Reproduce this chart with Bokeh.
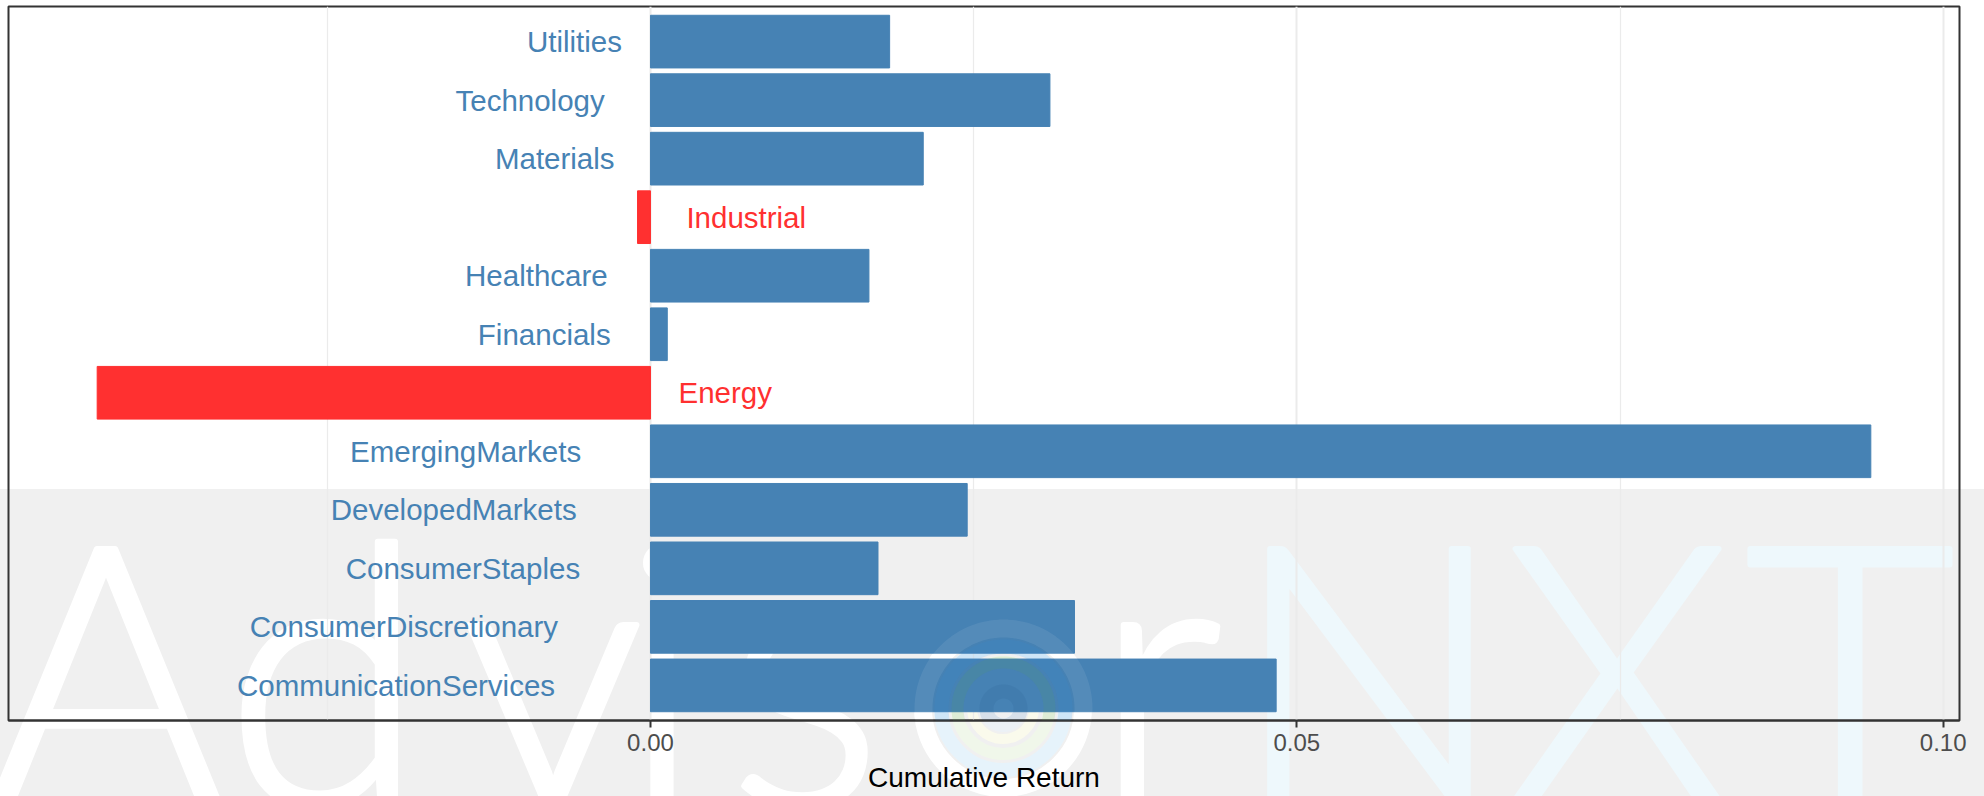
import math
from urllib.parse import quote
from bokeh.plotting import figure
from bokeh.models import (FactorRange, Range1d, ColumnDataSource, FixedTicker,
                          NumeralTickFormatter, PolyAnnotation, InlineStyleSheet)
from bokeh.core.properties import value
from bokeh.embed import file_html
from bokeh.resources import INLINE

# ---------------- data ----------------
categories = ["CommunicationServices", "ConsumerDiscretionary", "ConsumerStaples",
              "DevelopedMarkets", "EmergingMarkets", "Energy", "Financials",
              "Healthcare", "Industrial", "Materials", "Technology", "Utilities"]
cumulative_return = [0.0484, 0.0328, 0.0176, 0.0245, 0.0944, -0.0428, 0.0013,
                     0.0169, -0.0010, 0.0211, 0.0309, 0.0185]
x_ticks = [0.00, 0.05, 0.10]
x_minor_ticks = [-0.025, 0.025, 0.075]
x_title = "Cumulative Return"

POS_COLOR = "#4682b4"
NEG_COLOR = "#ff3030"
FONT = "Liberation Sans"
LABEL_PX = 29.5

W, H = 1984, 796
BORDER_L, BORDER_R, BORDER_T, BORDER_B = 8, 25, 6, 76

# Helvetica/Arial advance widths (per 1000 em) for label offset (ggplot hjust = 1.3)
_W = dict(zip("ABCDEFGHIJKLMNOPQRSTUVWXYZ",
              [667, 667, 722, 722, 667, 611, 778, 722, 278, 500, 667, 556, 833, 722, 778,
               667, 778, 722, 667, 611, 722, 667, 944, 667, 667, 611]))
_W.update(dict(zip("abcdefghijklmnopqrstuvwxyz",
                   [556, 556, 500, 556, 556, 278, 556, 556, 222, 222, 500, 222, 833, 556, 556,
                    556, 556, 333, 500, 278, 556, 500, 722, 500, 500, 500])))


def text_width(s, px):
    return sum(_W.get(c, 556) for c in s) / 1000.0 * px


pos = [c for c, v in zip(categories, cumulative_return) if v >= 0]
neg = [c for c, v in zip(categories, cumulative_return) if v < 0]

bars = ColumnDataSource(dict(
    cat=categories, val=cumulative_return,
    color=[POS_COLOR if v >= 0 else NEG_COLOR for v in cumulative_return]))
pos_src = ColumnDataSource(dict(cat=pos, x=[0.0] * len(pos),
                                off=[-0.3 * text_width(c, LABEL_PX) for c in pos]))
neg_src = ColumnDataSource(dict(cat=neg, x=[0.0] * len(neg),
                                off=[0.3 * text_width(c, LABEL_PX) for c in neg]))

lo, hi = min(cumulative_return), max(cumulative_return)
pad = 0.05 * (hi - lo)

# ---------------- watermark (page background, beneath the plot) ----------------
wm_letters = [("A", 106, "#ffffff"), ("d", 325, "#ffffff"), ("v", 553, "#ffffff"),
              ("i", 662, "#ffffff"), ("s", 805, "#ffffff"), ("r", 1158, "#ffffff"),
              ("N", 1369, "#eef8fc"), ("X", 1617, "#eef8fc"), ("T", 1850, "#eef8fc")]
LOGO_X, LOGO_Y = 1003, 708
logo_under = [(80, 18, "#ffffff"), (62, 14, "#e6f3fb"), (46, 12, "#f0f7ea"),
              (31, 10, "#fafaec"), (17, 14, "#ecf1f6")]
logo_over = [(80, 18, "#ffffff", 0.08), (62, 14, "#2e8ee0", 0.13),
             (46, 12, "#5aa04a", 0.13), (17, 14, "#1f5080", 0.10)]

svg = [f"<svg xmlns='http://www.w3.org/2000/svg' width='{W}' height='{H}' viewBox='0 0 {W} {H}'>",
       f"<rect x='0' y='489' width='{W}' height='{H - 489}' fill='#f0f0f0'/>",
       "<g font-family=\"'Lato Light', Lato, 'Liberation Sans'\" font-size='362'"
       " text-anchor='middle' stroke-width='6' stroke-linejoin='round'>"]
for ch, cx, col in wm_letters:
    svg.append(f"<text x='{cx}' y='805' fill='{col}' stroke='{col}'>{ch}</text>")
svg.append("</g><g fill='none'>")
for r, w, col in logo_under:
    svg.append(f"<circle cx='{LOGO_X}' cy='{LOGO_Y}' r='{r}' stroke='{col}' stroke-width='{w}'/>")
svg.append("</g></svg>")
svg_uri = "data:image/svg+xml," + quote("".join(svg))
bg_css = InlineStyleSheet(css=(
    f":host {{ background-color: #ffffff; background-image: url(\"{svg_uri}\");"
    f" background-repeat: no-repeat; background-size: {W}px {H}px; }}"))

p = figure(width=W, height=H,
           y_range=FactorRange(factors=categories, range_padding=0.1,
                               range_padding_units="absolute"),
           x_range=Range1d(lo - pad, hi + pad),
           output_backend="svg", toolbar_location=None,
           min_border_left=BORDER_L, min_border_right=BORDER_R,
           min_border_top=BORDER_T, min_border_bottom=BORDER_B)
p.stylesheets = [bg_css]
p.background_fill_color = None
p.border_fill_color = None
p.outline_line_color = "#333333"
p.outline_line_width = 2

# ---------------- bars & labels ----------------
p.hbar(y="cat", left=0, right="val", height=0.9, color="color", source=bars)

p.text(x="x", y="cat", text="cat", x_offset="off", source=pos_src,
       text_align="right", text_baseline="middle", text_color=POS_COLOR,
       text_font=value(FONT), text_font_size=f"{LABEL_PX}px")
p.text(x="x", y="cat", text="cat", x_offset="off", source=neg_src,
       text_align="left", text_baseline="middle", text_color=NEG_COLOR,
       text_font=value(FONT), text_font_size=f"{LABEL_PX}px")

# faint logo rings over the bars (watermark overlay)
frame_bottom = H - BORDER_B
for r, w, col, a in logo_over:
    xs = [LOGO_X - BORDER_L + r * math.cos(2 * math.pi * k / 120) for k in range(120)]
    ys = [frame_bottom - (LOGO_Y + r * math.sin(2 * math.pi * k / 120)) for k in range(120)]
    p.add_layout(PolyAnnotation(xs=xs, ys=ys, xs_units="screen", ys_units="screen",
                                fill_alpha=0, line_color=col, line_alpha=a,
                                line_width=w, level="overlay"))

# ---------------- axes & grid ----------------
ticker = FixedTicker(ticks=x_ticks, minor_ticks=x_minor_ticks)
p.xaxis.ticker = ticker
p.xgrid.ticker = ticker
p.xaxis.formatter = NumeralTickFormatter(format="0.00")
p.xaxis.axis_label = x_title
p.xaxis.axis_label_text_font = FONT
p.xaxis.axis_label_text_font_size = "28px"
p.xaxis.axis_label_text_font_style = "normal"
p.xaxis.axis_label_text_color = "#000000"
p.xaxis.axis_label_standoff = 8
p.xaxis.major_label_text_font = FONT
p.xaxis.major_label_text_font_size = "24px"
p.xaxis.major_label_text_color = "#4d4d4d"
p.xaxis.major_label_standoff = 6
p.xaxis.major_tick_out = 7
p.xaxis.major_tick_in = 0
p.xaxis.major_tick_line_color = "#333333"
p.xaxis.major_tick_line_width = 2
p.xaxis.minor_tick_line_color = None
p.xaxis.axis_line_color = "#333333"
p.xaxis.axis_line_width = 2
p.yaxis.visible = False

p.xgrid.grid_line_color = "#ebebeb"
p.xgrid.grid_line_width = 2
p.xgrid.minor_grid_line_color = "#ebebeb"
p.xgrid.minor_grid_line_width = 1.2
p.ygrid.visible = False

open("out.html", "w").write(file_html(p, INLINE))
